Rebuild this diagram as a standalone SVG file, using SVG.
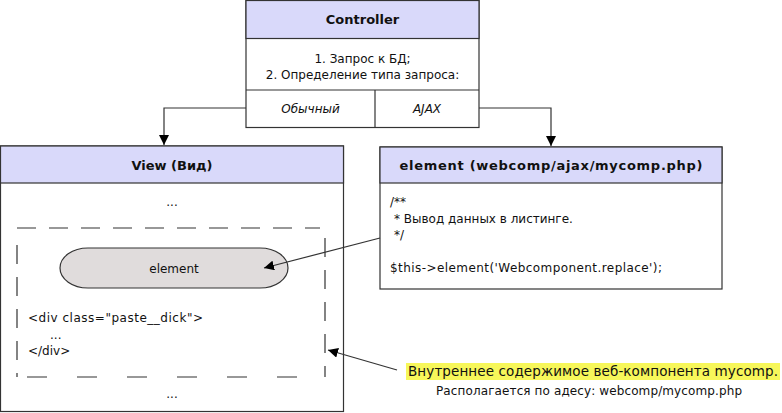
<svg xmlns="http://www.w3.org/2000/svg" width="782" height="413" viewBox="0 0 782 413">
<style>
.box{fill:#fff;stroke:#333;stroke-width:1.2}
.hdr{fill:#d9d9fa;stroke:#333;stroke-width:1.2}
.t{font-family:"DejaVu Sans",Verdana,sans-serif;font-size:12px;fill:#111}
.b{font-family:"DejaVu Sans",Verdana,sans-serif;font-size:13px;font-weight:bold;fill:#111}
.i{font-style:italic}
.c{text-anchor:middle}
.ln{fill:none;stroke:#333;stroke-width:1.2}
.dash{fill:none;stroke:#333;stroke-width:1.2;stroke-dasharray:19 13}
</style>
<defs>
<marker id="ah" viewBox="0 0 10 10" refX="10" refY="5" markerWidth="10" markerHeight="10" markerUnits="userSpaceOnUse" orient="auto">
<path d="M0,0 L10,5 L0,10 z" fill="#000"/>
</marker>
</defs>
<g id="controller">
<rect class="box" x="246" y="0.5" width="233" height="127"/>
<rect class="hdr" x="246" y="0.5" width="233" height="38"/>
<text class="b c" x="362.5" y="24">Controller</text>
<text class="t c" x="362.5" y="63">1. Запрос к БД;</text>
<text class="t c" x="362.5" y="79">2. Определение типа запроса:</text>
<line class="ln" x1="246" y1="90" x2="479" y2="90"/>
<line class="ln" x1="375" y1="90" x2="375" y2="127.5"/>
<text class="t c i" x="310.5" y="113">Обычный</text>
<text class="t c i" x="427" y="113">AJAX</text>
</g>
<g id="view">
<rect class="box" x="0.5" y="146" width="343" height="265.5"/>
<rect class="hdr" x="0.5" y="146" width="343" height="37"/>
<text class="b c" x="172" y="170">View (Вид)</text>
<text class="t c" x="172" y="206">...</text>
<line class="dash" x1="17" y1="228" x2="320" y2="228"/>
<line class="dash" x1="17" y1="377" x2="325" y2="377" style="stroke-dasharray:0 10 20 20"/>
<line class="dash" x1="17" y1="245" x2="17" y2="377"/>
<line class="dash" x1="325" y1="238" x2="325" y2="377"/>
<text class="t c" x="172" y="398">...</text>
</g>
<g id="element-oval">
<rect x="60" y="248" width="228" height="40" rx="28" ry="20" fill="#e0dcdc" stroke="#333" stroke-width="1.2"/>
<text class="t c" x="174" y="273">element</text>
</g>
<g id="div-text">
<text class="t" x="28" y="322" textLength="175">&lt;div class="paste__dick"&gt;</text>
<text class="t" x="50" y="339">...</text>
<text class="t" x="28" y="355">&lt;/div&gt;</text>
</g>
<g id="element-box">
<rect class="box" x="380" y="147" width="342" height="142"/>
<rect class="hdr" x="380" y="147" width="342" height="36"/>
<text class="b c" x="551" y="170" textLength="303">element (webcomp/ajax/mycomp.php)</text>
<text class="t" x="390" y="206">/**</text>
<text class="t" x="394" y="223">* Вывод данных в листинге.</text>
<text class="t" x="394" y="239">*/</text>
<text class="t" x="390" y="272" textLength="272">$this-&gt;element('Webcomponent.replace');</text>
</g>
<g id="note">
<rect x="406" y="363" width="374" height="17" fill="#f7f75a"/>
<text class="t" x="408" y="376" style="font-size:13.5px" textLength="370">Внутреннее содержимое веб-компонента mycomp.</text>
<text class="t c" x="589" y="395" textLength="306">Располагается по адесу:  webcomp/mycomp.php</text>
</g>
<g id="connectors">
<polyline class="ln" points="246,108 164,108 164,145" marker-end="url(#ah)"/>
<polyline class="ln" points="479,108 551,108 551,146" marker-end="url(#ah)"/>
<line class="ln" x1="380" y1="238" x2="264" y2="268" marker-end="url(#ah)"/>
<line class="ln" x1="397" y1="370" x2="328" y2="350" marker-end="url(#ah)"/>
</g>
</svg>
